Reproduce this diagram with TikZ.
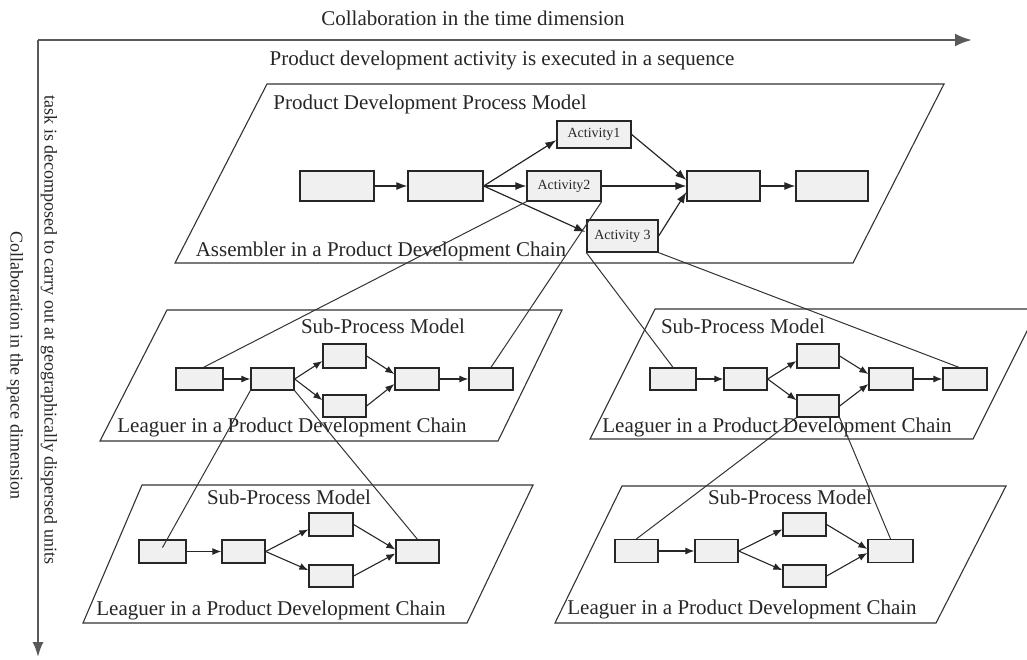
\documentclass[tikz,border=0pt]{standalone}
\usepackage{fontspec}
\setmainfont{Liberation Serif}
\usetikzlibrary{arrows.meta,calc}

\begin{document}
\begin{tikzpicture}[x=1pt,y=-1pt,
  plane/.style={draw=black!80,line width=1.1pt},
  box/.style={draw=black!85,line width=1.3pt,fill=gray!12,inner sep=0pt,minimum height=22pt},
  bigbox/.style={box,minimum height=30pt},
  flow/.style={draw=black!85,line width=1.2pt,-{Latex[length=11pt,width=8pt]}},
  sflow/.style={draw=black!85,line width=1.1pt,-{Latex[length=9pt,width=7pt]}},
  link/.style={draw=black!80,line width=1pt},
  axis/.style={draw=black!65,line width=2.6pt,-{Latex[length=17pt,width=13pt]}},
  vaxis/.style={draw=black!65,line width=2pt,-{Latex[length=15pt,width=11pt]}},
  lbl/.style={text=black!85,inner sep=0pt,font=\fontsize{21}{23}\selectfont},
  vlbl/.style={text=black!85,inner sep=0pt,font=\fontsize{18}{20}\selectfont,rotate=-90},
  act/.style={text=black!85,font=\fontsize{14}{16}\selectfont}
]
\useasboundingbox (0,0) rectangle (1027,659);

% axes
\coordinate (o) at (38,40);
\coordinate (tx) at (972,40);
\coordinate (ty) at (38,657);
\draw[axis] (o) -- (tx);
\draw[vaxis] (o) -- (ty);
\node[lbl] (ttime) at (473,18) {Collaboration in the time dimension};
\node[lbl] (tseq) at (502,60) {Product development activity is executed in a sequence};
\node[vlbl] (tspace) at (15,365) {Collaboration in the space dimension};
\node[vlbl] (tdec) at (49,330) {task is decomposed to carry out at geographically dispersed units};

% planes
\draw[plane] (267,84) -- (944,84) -- (853,263) -- (175,263) -- cycle;
\draw[plane] (167,310) -- (562,310) -- (498,441) -- (100,441) -- cycle;
\draw[plane] (655,309) -- (1038,309) -- (973,439) -- (590,439) -- cycle;
\draw[plane] (142,485) -- (533,485) -- (467,623) -- (83,623) -- cycle;
\draw[plane] (622,486) -- (1006,486) -- (936,623) -- (555,623) -- cycle;

% plane captions
\node[lbl] (cm1) at (430,104) {Product Development Process Model};
\node[lbl] (cm2) at (381,251) {Assembler in a Product Development Chain};
\node[lbl] (cl1) at (383,326) {Sub-Process Model};
\node[lbl] (cl2) at (292,427) {Leaguer in a Product Development Chain};
\node[lbl] (cr1) at (743,326) {Sub-Process Model};
\node[lbl] (cr2) at (777,427) {Leaguer in a Product Development Chain};
\node[lbl] (cbl1) at (289,497) {Sub-Process Model};
\node[lbl] (cbl2) at (271,610) {Leaguer in a Product Development Chain};
\node[lbl] (cbr1) at (790,497) {Sub-Process Model};
\node[lbl] (cbr2) at (742,609) {Leaguer in a Product Development Chain};

% main process
\node[bigbox,minimum width=74pt] (m1) at (337,186) {};
\node[bigbox,minimum width=75pt] (m2) at (445.5,186) {};
\node[box,minimum width=74pt,minimum height=27pt,act] (a1) at (594,134.5) {Activity1};
\node[bigbox,minimum width=74pt,act] (a2) at (564,186) {Activity2};
\node[box,minimum width=71pt,minimum height=32pt,act] (a3) at (622.5,236) {Activity 3};
\node[bigbox,minimum width=73pt] (m4) at (723.5,186) {};
\node[bigbox,minimum width=72pt] (m5) at (832,186) {};

\draw[flow] (m1) -- (m2);
\draw[flow] (m2.east) -- ($(a1.west)!0.4!(a1.south west)$);
\draw[flow] (m2.east) -- (a2.west);
\draw[flow] (m2.east) -- ([xshift=-1pt,yshift=4pt]a3.west);
\draw[flow] (a1.east) -- ([yshift=6pt]m4.west);
\draw[flow] (a2.east) -- (m4.west);
\draw[flow] (a3.east) -- ([yshift=-6pt]m4.west);
\draw[flow] (m4) -- (m5);

% left middle sub-process
\node[box,minimum width=47pt] (l1) at (199.5,379) {};
\node[box,minimum width=43pt] (l2) at (272.5,379) {};
\node[box,minimum width=43pt,minimum height=24pt] (l3) at (344.5,356) {};
\node[box,minimum width=43pt] (l4) at (344.5,406) {};
\node[box,minimum width=44pt] (l5) at (417,379) {};
\node[box,minimum width=44pt] (l6) at (491,379) {};
\draw[sflow] (l1) -- (l2);
\draw[sflow] (l2.east) -- ($(l3.west)!0.4!(l3.south west)$);
\draw[sflow] (l2.east) -- ($(l4.west)!0.5!(l4.north west)$);
\draw[sflow] (l3.east) -- ([yshift=5pt]l5.west);
\draw[sflow] (l4.east) -- ([yshift=-5pt]l5.west);
\draw[sflow] (l5) -- (l6);

% right middle sub-process
\node[box,minimum width=46pt] (r1) at (673,379) {};
\node[box,minimum width=43pt] (r2) at (745.5,379) {};
\node[box,minimum width=42pt,minimum height=24pt] (r3) at (818,356) {};
\node[box,minimum width=42pt] (r4) at (818,406) {};
\node[box,minimum width=44pt] (r5) at (891,379) {};
\node[box,minimum width=44pt] (r6) at (965,379) {};
\draw[sflow] (r1) -- (r2);
\draw[sflow] (r2.east) -- ($(r3.west)!0.4!(r3.south west)$);
\draw[sflow] (r2.east) -- ($(r4.west)!0.5!(r4.north west)$);
\draw[sflow] (r3.east) -- ([yshift=5pt]r5.west);
\draw[sflow] (r4.east) -- ([yshift=-5pt]r5.west);
\draw[sflow] (r5) -- (r6);

% bottom left sub-process
\node[box,minimum width=47pt,minimum height=23pt] (p1) at (162.5,551.5) {};
\node[box,minimum width=43pt,minimum height=23pt] (p2) at (243.5,551.5) {};
\node[box,minimum width=44pt,minimum height=23pt] (p3) at (331,524.5) {};
\node[box,minimum width=44pt] (p4) at (331,576) {};
\node[box,minimum width=43pt,minimum height=23pt] (p5) at (417.5,551.5) {};
\draw[sflow] (p1) -- (p2);
\draw[sflow] (p2.east) -- ($(p3.west)!0.4!(p3.south west)$);
\draw[sflow] (p2.east) -- ($(p4.west)!0.5!(p4.north west)$);
\draw[sflow] (p3.east) -- ([yshift=2pt]p5.west);
\draw[sflow] (p4.east) -- ([yshift=-2pt]p5.west);

% bottom right sub-process
\node[box,minimum width=43pt,minimum height=23pt] (q1) at (636.5,551) {};
\node[box,minimum width=43pt,minimum height=23pt] (q2) at (716.5,551) {};
\node[box,minimum width=43pt,minimum height=23pt] (q3) at (804.5,524.5) {};
\node[box,minimum width=43pt] (q4) at (804.5,576) {};
\node[box,minimum width=45pt,minimum height=23pt] (q5) at (890.5,551) {};
\draw[sflow] (q1) -- (q2);
\draw[sflow] (q2.east) -- ($(q3.west)!0.4!(q3.south west)$);
\draw[sflow] (q2.east) -- ($(q4.west)!0.5!(q4.north west)$);
\draw[sflow] (q3.east) -- ([yshift=2pt]q5.west);
\draw[sflow] (q4.east) -- ([yshift=-2pt]q5.west);

% links between levels
\draw[link] (a2.south west) -- ([xshift=4pt]l1.north);
\draw[link] (a2.south east) -- (l6.north);
\draw[link] (a3.south west) -- (r1.north);
\draw[link] (a3.south east) -- ([xshift=-6pt]r6.north);
\draw[link] (l2.south west) -- ([yshift=4pt]p1.center);
\draw[link] (l2.south east) -- (p5.north);
\draw[link] (r4.south west) -- (q1.north);
\draw[link] (r4.south east) -- (q5.north);
\end{tikzpicture}
\end{document}
